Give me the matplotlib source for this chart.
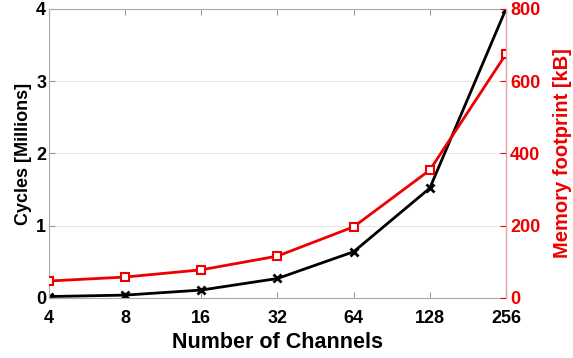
import matplotlib.pyplot as plt

channels = [4, 8, 16, 32, 64, 128, 256]
cycles_millions = [0.02, 0.04, 0.11, 0.27, 0.64, 1.52, 4.0]
memory_kb = [47, 58, 78, 116, 197, 354, 675]

plt.rcParams['font.family'] = ['Liberation Sans', 'DejaVu Sans']
plt.rcParams['font.weight'] = 'bold'

fig = plt.figure(figsize=(5.73, 3.58), dpi=100)
ax = fig.add_axes([0.0855, 0.1676, 0.7975, 0.8074])
xs = list(range(len(channels)))

ax.plot(xs, cycles_millions, color='black', lw=2, marker='x', ms=6, mew=2)
ax.set_xlim(0, len(channels) - 1)
ax.set_ylim(0, 4)
ax.set_yticks([0, 1, 2, 3, 4])
ax.set_xticks(xs)
ax.set_xticklabels([str(c) for c in channels])
ax.grid(axis='y', color='#e6e6e6', lw=0.8)
ax.set_axisbelow(True)
ax.tick_params(direction='in', length=4, color='#999999', labelsize=13, top=True)
ax.tick_params(axis='x', pad=9)
ax.tick_params(axis='y', pad=2)
for lbl in ax.get_xticklabels() + ax.get_yticklabels():
    lbl.set_fontweight('bold')
for s in ['left', 'top', 'bottom']:
    ax.spines[s].set_color('#aaaaaa')
ax.set_xlabel('Number of Channels', fontsize=15.5, fontweight='bold', labelpad=3)
ax.set_ylabel('Cycles [Millions]', fontsize=13, fontweight='bold', labelpad=3)

ax2 = ax.twinx()
ax2.plot(xs, memory_kb, color='#ee0000', lw=2, marker='s', ms=6, mfc='white', mew=1.5)
ax2.set_ylim(0, 800)
ax2.set_yticks([0, 200, 400, 600, 800])
ax2.tick_params(direction='in', length=4, colors='#ee0000', labelsize=13, pad=3)
for lbl in ax2.get_yticklabels():
    lbl.set_fontweight('bold')
ax2.spines['right'].set_color('#f4a0a0')
for s in ['left', 'top', 'bottom']:
    ax2.spines[s].set_visible(False)
ax2.set_ylabel('Memory footprint [kB]', fontsize=14.5, fontweight='bold', color='#ee0000', labelpad=9)

fig.savefig('out.png', dpi=100)
